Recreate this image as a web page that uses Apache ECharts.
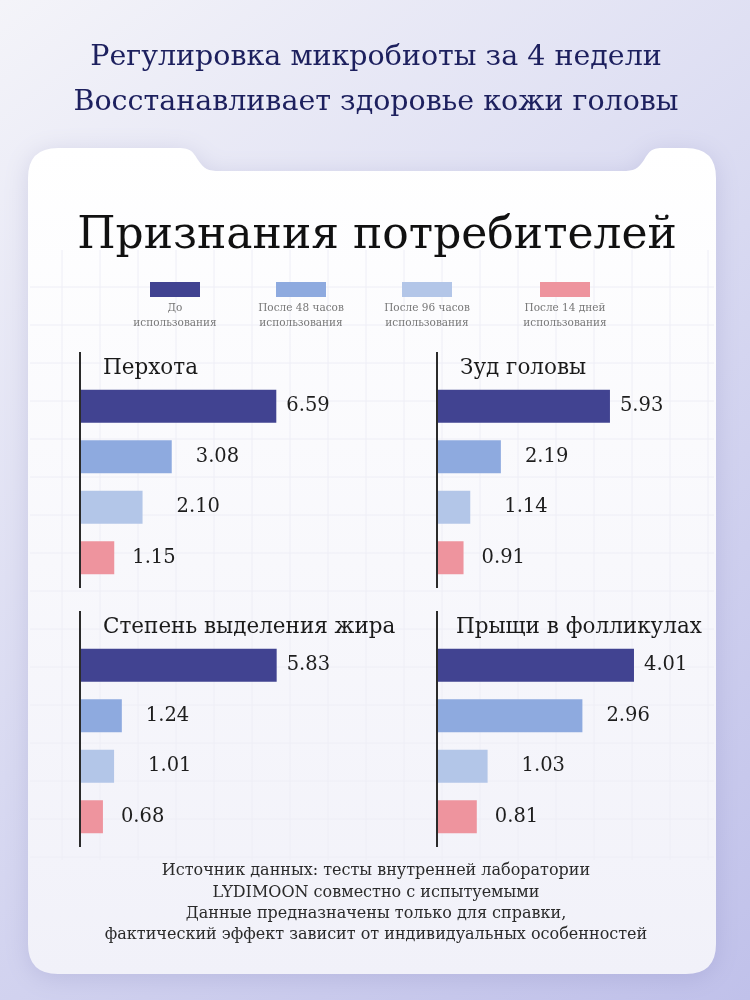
<!DOCTYPE html>
<html>
<head>
<meta charset="utf-8">
<title>Признания потребителей</title>
<script src="https://cdn.jsdelivr.net/npm/echarts@6/dist/echarts.min.js"></script>
<style>
    html, body { margin: 0; padding: 0; }
    #chart { width: 750px; height: 1000px; }
</style>
</head>
<body>
<div id="chart"></div>
<script>
// данные
var stages = ['До\nиспользования', 'После 48 часов\nиспользования', 'После 96 часов\nиспользования', 'После 14 дней\nиспользования'];
var panelTitles = ['Перхота', 'Зуд головы', 'Степень выделения жира', 'Прыщи в фолликулах'];
var dandruff = [6.59, 3.08, 2.10, 1.15];
var itching = [5.93, 2.19, 1.14, 0.91];
var oiliness = [5.83, 1.24, 1.01, 0.68];
var pimples = [4.01, 2.96, 1.03, 0.81];
var panelValues = [dandruff, itching, oiliness, pimples];

var headline = 'Регулировка микробиоты за 4 недели\nВосстанавливает здоровье кожи головы';
var cardTitle = 'Признания потребителей';
var footnote = 'Источник данных: тесты внутренней лаборатории\nLYDIMOON совместно с испытуемыми\nДанные предназначены только для справки,\nфактический эффект зависит от индивидуальных особенностей';

// стиль
var colors = ['#414391', '#8eaadf', '#b3c6e8', '#ee949e'];
var serif = '"DejaVu Serif", "Liberation Serif", serif';
var panelBox = [
    {left: 80, top: 381},
    {left: 437, top: 381},
    {left: 80, top: 640},
    {left: 437, top: 640}
];
var axisMax = [9.4, 9.6, 8.3, 5.7];
var labelGap = [10, 24, 34, 18];

function _linear(x2, y2, stops) {
    return {type: 'linear', x: 0, y: 0, x2: x2, y2: y2, colorStops: stops};
}

function _cardPath() {
    return 'M58 148 L176 148 C190 148 192 150 198 160 C204 169 208 171 220 171 ' +
        'L622 171 C634 171 638 169 644 160 C650 150 652 148 664 148 ' +
        'L686 148 Q716 148 716 178 L716 944 Q716 974 686 974 L58 974 Q28 974 28 944 L28 178 Q28 148 58 148 Z';
}

function _txt(text, x, y, font, fill, align, lineHeight) {
    return {
        type: 'text', z: 5,
        style: {text: text, x: x, y: y, font: font, fill: fill,
            align: align, verticalAlign: 'middle', textAlign: align, textVerticalAlign: 'middle',
            lineHeight: lineHeight}
    };
}

function _graphic() {
    var els = [];
    // бледная сетка на карточке
    for (var x = 62; x < 716; x += 38) {
        els.push({type: 'line', z: 1, shape: {x1: x, y1: 250, x2: x, y2: 860},
            style: {stroke: '#eeeef6', lineWidth: 1}});
    }
    for (var y = 287; y < 870; y += 38) {
        els.push({type: 'line', z: 1, shape: {x1: 30, y1: y, x2: 714, y2: y},
            style: {stroke: '#eeeef6', lineWidth: 1}});
    }
    els.push(_txt(headline, 376, 80, '28.5px ' + serif, '#1d205e', 'center', 45));
    els.push(_txt(cardTitle, 377, 237, '44px ' + serif, '#111111', 'center'));
    // легенда
    var legendX = [175, 301, 427, 565];
    stages.forEach(function (s, i) {
        els.push({type: 'rect', z: 5, shape: {x: legendX[i] - 25, y: 282, width: 50, height: 15},
            style: {fill: colors[i]}});
        els.push(_txt(s, legendX[i], 316, '10.5px ' + serif, '#777777', 'center', 15));
    });
    // панели: вертикальная ось и заголовок
    panelBox.forEach(function (p, i) {
        els.push({type: 'line', z: 5, shape: {x1: p.left, y1: p.top - 29, x2: p.left, y2: p.top + 207},
            style: {stroke: '#2b2b2b', lineWidth: 2}});
        els.push(_txt(panelTitles[i], p.left + (i === 3 ? 19 : 23), p.top - 13, '21.5px ' + serif, '#1a1a1a', 'left'));
    });
    els.push(_txt(footnote, 376, 903, '16px ' + serif, '#2a2a2a', 'center', 21.3));
    return els;
}

var chart = echarts.init(document.getElementById('chart'));
var option = {
    backgroundColor: _linear(1, 1, [
        {offset: 0, color: '#f4f4f9'},
        {offset: 0.5, color: '#d8d9f1'},
        {offset: 1, color: '#c0c1ea'}
    ]),
    animation: false,
    grid: [], xAxis: [], yAxis: [],
    series: [{
        // карточка с вырезом сверху
        type: 'custom',
        coordinateSystem: 'none',
        silent: true,
        z: 0,
        data: [0],
        renderItem: function () {
            return {
                type: 'path',
                shape: {pathData: _cardPath()},
                style: {
                    fill: _linear(0, 1, [
                        {offset: 0, color: '#ffffff'},
                        {offset: 1, color: '#f1f1f9'}
                    ]),
                    shadowBlur: 24,
                    shadowColor: 'rgba(110,110,170,0.22)',
                    shadowOffsetY: 4
                }
            };
        }
    }],
    graphic: _graphic()
};

panelValues.forEach(function (vals, i) {
    option.grid.push({left: panelBox[i].left, top: panelBox[i].top, width: 280, height: 202});
    option.xAxis.push({gridIndex: i, type: 'value', min: 0, max: axisMax[i], show: false});
    option.yAxis.push({gridIndex: i, type: 'category', inverse: true, data: stages, show: false});
    option.series.push({
        type: 'bar',
        xAxisIndex: i,
        yAxisIndex: i,
        barWidth: 33,
        z: 4,
        data: vals.map(function (v, k) {
            return {
                value: v,
                itemStyle: {color: colors[k]},
                label: {distance: labelGap[k]}
            };
        }),
        label: {
            show: true,
            position: 'right',
            fontFamily: serif,
            fontSize: 19.5,
            color: '#1e1e1e',
            formatter: function (p) { return p.value.toFixed(2); }
        }
    });
});

chart.setOption(option);
</script>
</body>
</html>
